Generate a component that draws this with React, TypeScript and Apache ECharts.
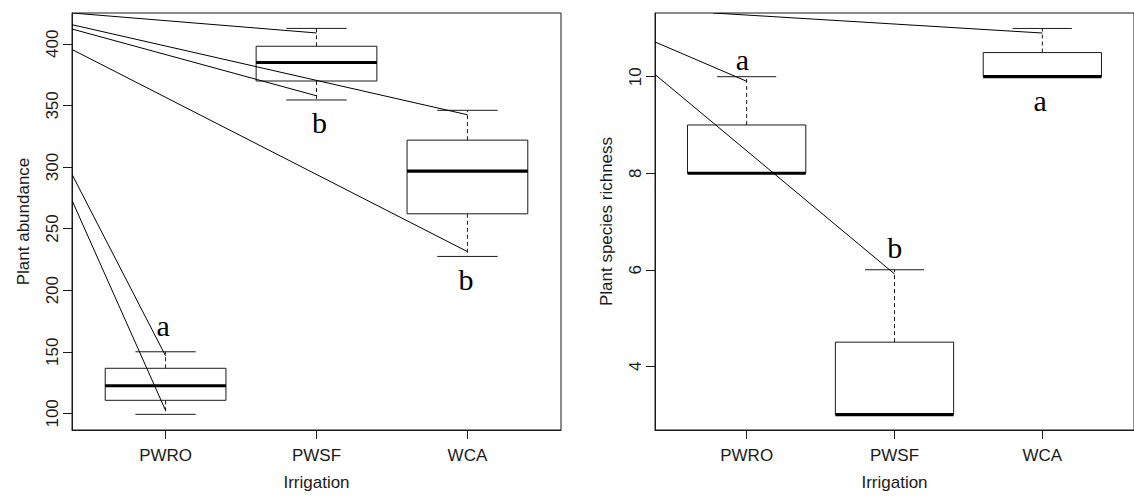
import React, { useEffect, useRef } from 'react';
import * as echarts from 'echarts';

// ---- data ----
const categories = ['PWRO', 'PWSF', 'WCA'];
const catPos = [1, 2, 3];

// Plant abundance boxplot statistics
const abundLow = [99.2, 354.4, 227.4];
const abundQ1 = [110.6, 369.8, 262];
const abundMed = [122.4, 384.8, 296.7];
const abundQ3 = [136.6, 398, 321.8];
const abundHigh = [150, 412.5, 346];
const abundTicks = [100, 150, 200, 250, 300, 350, 400];
const abundLetters = ['a', 'b', 'b'];
const abundLetterX = [0.984, 2.02, 2.99];
const abundLetterY = [171.7, 335.8, 209];
// leader lines: [x1, y1, x2, y2]
const abundLines = [
  [0.38, 425, 2, 408.8],
  [0.38, 415.5, 3, 342.4],
  [0.38, 412, 2, 357.8],
  [0.38, 395.4, 3, 231.3],
  [0.38, 294, 1, 146.7],
  [0.38, 272.9, 1, 102.4],
];

// Plant species richness boxplot statistics
const richLow = [8, 3, 10];
const richQ1 = [8, 3, 10];
const richMed = [8, 3, 10];
const richQ3 = [9, 4.5, 10.5];
const richHigh = [10, 6, 11];
const richTicks = [4, 6, 8, 10];
const richLetters = ['a', 'b', 'a'];
const richLetterX = [0.972, 2.002, 2.986];
const richLetterY = [10.358, 6.457, 9.5];
const richLines = [
  [0.773, 11.32, 3, 10.905],
  [0.38, 10.72, 1, 9.905],
  [0.38, 10.047, 2, 5.914],
];

const INK = '#1a1a1a';
const SANS = '"Liberation Sans", Arial, sans-serif';
const SERIF = '"Liberation Serif", "Times New Roman", serif';

function boxData(lo: number[], q1: number[], med: number[], q3: number[], hi: number[]) {
  return catPos.map((x, i) => [x, lo[i], q1[i], med[i], q3[i], hi[i]]);
}

const renderBox = (_params: any, api: any) => {
  const x = api.value(0);
  const lo = api.value(1);
  const q1 = api.value(2);
  const med = api.value(3);
  const q3 = api.value(4);
  const hi = api.value(5);
  const tl = api.coord([x - 0.4, q3]);
  const br = api.coord([x + 0.4, q1]);
  const m = api.coord([x, med]);
  const cHi = api.coord([x, hi]);
  const cLo = api.coord([x, lo]);
  const capL = api.coord([x - 0.2, hi])[0];
  const capR = api.coord([x + 0.2, hi])[0];
  const thin = { stroke: INK, lineWidth: 1, fill: 'none' };
  return {
    type: 'group',
    children: [
      { type: 'line', shape: { x1: cHi[0], y1: tl[1], x2: cHi[0], y2: cHi[1] }, style: { ...thin, lineDash: [4, 3] } },
      { type: 'line', shape: { x1: cLo[0], y1: br[1], x2: cLo[0], y2: cLo[1] }, style: { ...thin, lineDash: [4, 3] } },
      { type: 'line', shape: { x1: capL, y1: cHi[1], x2: capR, y2: cHi[1] }, style: thin },
      { type: 'line', shape: { x1: capL, y1: cLo[1], x2: capR, y2: cLo[1] }, style: thin },
      { type: 'rect', shape: { x: tl[0], y: tl[1], width: br[0] - tl[0], height: br[1] - tl[1] }, style: thin },
      { type: 'line', shape: { x1: tl[0], y1: m[1], x2: br[0], y2: m[1] }, style: { stroke: '#000', lineWidth: 3.2 } },
    ],
  };
};

const renderSeg = (_params: any, api: any) => {
  const a = api.coord([api.value(0), api.value(1)]);
  const b = api.coord([api.value(2), api.value(3)]);
  return { type: 'line', shape: { x1: a[0], y1: a[1], x2: b[0], y2: b[1] }, style: { stroke: '#000', lineWidth: 1 } };
};

const makeLetterRenderer = (letters: string[]) => (_params: any, api: any) => {
  const p = api.coord([api.value(0), api.value(1)]);
  return {
    type: 'text',
    x: p[0],
    y: p[1],
    style: { text: letters[api.value(2)], font: `30px ${SERIF}`, fill: '#000', align: 'center', verticalAlign: 'middle' },
  };
};

function xAxisFor(gridIndex: number) {
  return {
    gridIndex,
    type: 'value',
    min: 0.38,
    max: 3.62,
    axisLine: { show: true, lineStyle: { color: INK, width: 1 } },
    axisTick: { show: true, customValues: catPos, length: 9, lineStyle: { color: INK } },
    axisLabel: {
      show: true,
      customValues: catPos,
      formatter: (v: number) => categories[Math.round(v) - 1] ?? '',
      margin: 17,
      fontSize: 17,
      fontFamily: SANS,
      color: INK,
    },
    splitLine: { show: false },
    name: 'Irrigation',
    nameLocation: 'middle',
    nameGap: 44,
    nameTextStyle: { fontSize: 17, fontFamily: SANS, color: INK },
  };
}

function yAxisFor(gridIndex: number, min: number, max: number, ticks: number[], name: string) {
  return {
    gridIndex,
    type: 'value',
    min,
    max,
    axisLine: { show: true, lineStyle: { color: INK, width: 1 } },
    axisTick: { show: true, customValues: ticks, length: 9, lineStyle: { color: INK } },
    axisLabel: {
      show: true,
      customValues: ticks,
      rotate: 90,
      margin: 11,
      fontSize: 17,
      fontFamily: SANS,
      color: INK,
    },
    splitLine: { show: false },
    name,
    nameLocation: 'middle',
    nameGap: 40,
    nameRotate: 90,
    nameTextStyle: { fontSize: 17, fontFamily: SANS, color: INK },
  };
}

export default function App() {
  const ref = useRef<HTMLDivElement>(null);
  useEffect(() => {
    document.body.style.margin = '0';
    const chart = echarts.init(ref.current!, null, { renderer: 'svg' });
    chart.setOption({
      animation: false,
      backgroundColor: '#fff',
      grid: [
        { left: 72, top: 13, width: 489, height: 423, show: true, borderColor: INK, borderWidth: 1, backgroundColor: 'transparent' },
        { left: 655, top: 13, width: 489, height: 423, show: true, borderColor: INK, borderWidth: 1, backgroundColor: 'transparent' },
      ],
      xAxis: [xAxisFor(0), xAxisFor(1)],
      yAxis: [
        yAxisFor(0, 86.5, 425, abundTicks, 'Plant abundance'),
        yAxisFor(1, 2.68, 11.32, richTicks, 'Plant species richness'),
      ],
      series: [
        {
          type: 'custom', xAxisIndex: 0, yAxisIndex: 0, renderItem: renderBox,
          data: boxData(abundLow, abundQ1, abundMed, abundQ3, abundHigh),
        },
        {
          type: 'custom', xAxisIndex: 0, yAxisIndex: 0, renderItem: renderSeg, clip: true,
          data: abundLines,
        },
        {
          type: 'custom', xAxisIndex: 0, yAxisIndex: 0, renderItem: makeLetterRenderer(abundLetters),
          data: abundLetterX.map((x, i) => [x, abundLetterY[i], i]),
        },
        {
          type: 'custom', xAxisIndex: 1, yAxisIndex: 1, renderItem: renderBox,
          data: boxData(richLow, richQ1, richMed, richQ3, richHigh),
        },
        {
          type: 'custom', xAxisIndex: 1, yAxisIndex: 1, renderItem: renderSeg, clip: true,
          data: richLines,
        },
        {
          type: 'custom', xAxisIndex: 1, yAxisIndex: 1, renderItem: makeLetterRenderer(richLetters),
          data: richLetterX.map((x, i) => [x, richLetterY[i], i]),
        },
      ],
    });
    return () => chart.dispose();
  }, []);
  return <div ref={ref} style={{ width: 1134, height: 496, overflow: 'hidden' }} />;
}
